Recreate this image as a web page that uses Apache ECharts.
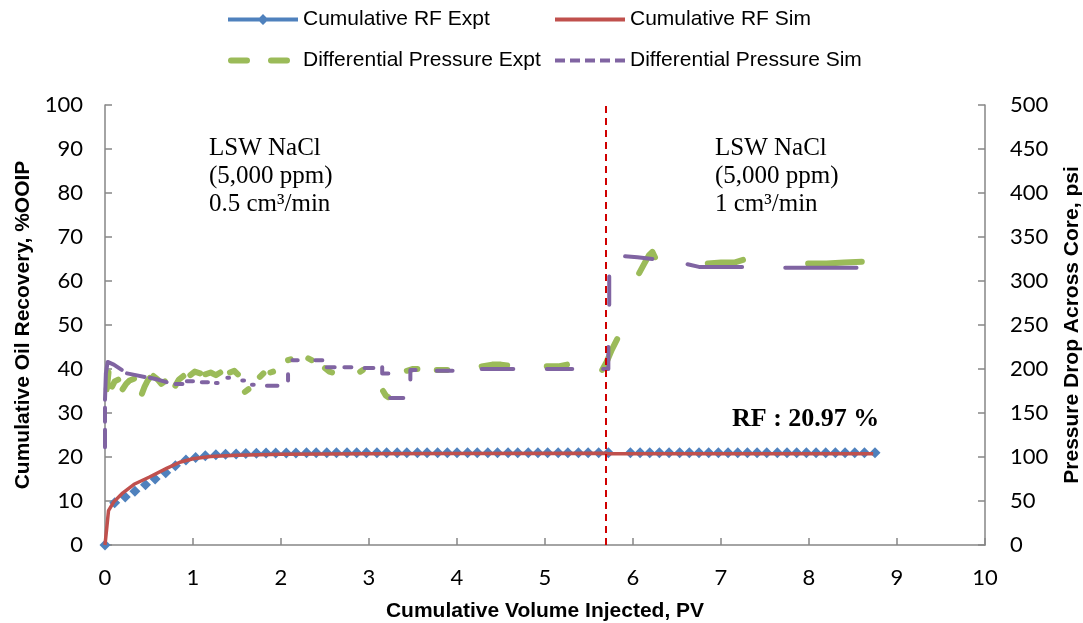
<!DOCTYPE html>
<html>
<head>
<meta charset="utf-8">
<script src="https://cdn.jsdelivr.net/npm/echarts@6/dist/echarts.min.js"></script>
<style>
html,body{margin:0;padding:0;background:#fff;}
#chart{width:1083px;height:623px;}
</style>
</head>
<body>
<div id="chart"></div>
<script>
// ---------- DATA ----------
const xTicks = {min: 0, max: 10, interval: 1};
const leftTicks = {min: 0, max: 100, interval: 10};
const rightTicks = {min: 0, max: 500, interval: 50};

const seriesNames = ['Cumulative RF Expt', 'Cumulative RF Sim', 'Differential Pressure Expt', 'Differential Pressure Sim'];

// Cumulative RF (Expt) : PV and %OOIP
const rfExptPV = [0, 0.11, 0.23, 0.34, 0.46, 0.57, 0.69, 0.80, 0.92, 1.03, 1.14, 1.26, 1.37, 1.49, 1.60, 1.72, 1.83, 1.94, 2.06, 2.17,
  2.29, 2.40, 2.52, 2.63, 2.75, 2.86, 2.97, 3.09, 3.20, 3.32, 3.43, 3.55, 3.66, 3.78, 3.89, 4.00, 4.12, 4.23, 4.35, 4.46,
  4.58, 4.69, 4.81, 4.92, 5.03, 5.15, 5.26, 5.38, 5.49, 5.61, 5.72,
  5.97, 6.08, 6.19, 6.30, 6.41, 6.53, 6.64, 6.75, 6.86, 6.97, 7.08, 7.19, 7.30, 7.41, 7.52, 7.64, 7.75, 7.86, 7.97, 8.08,
  8.19, 8.30, 8.41, 8.52, 8.63, 8.75];
const rfExptVal = [0, 9.6, 10.9, 12.2, 13.7, 15.0, 16.4, 18.0, 19.3, 19.9, 20.3, 20.5, 20.6, 20.7, 20.8, 20.85, 20.9, 20.9, 20.92, 20.93,
  20.94, 20.95, 20.95, 20.96, 20.96, 20.97, 20.97, 20.97, 20.97, 20.97, 20.97, 20.97, 20.97, 20.97, 20.97, 20.97, 20.97, 20.97, 20.97, 20.97,
  20.97, 20.97, 20.97, 20.97, 20.97, 20.97, 20.97, 20.97, 20.97, 20.97, 20.97,
  20.97, 20.97, 20.97, 20.97, 20.97, 20.97, 20.97, 20.97, 20.97, 20.97, 20.97, 20.97, 20.97, 20.97, 20.97, 20.97, 20.97, 20.97, 20.97, 20.97,
  20.97, 20.97, 20.97, 20.97, 20.97, 20.97];

// Cumulative RF (Sim)
const rfSimPV  = [0, 0.04, 0.10, 0.20, 0.33, 0.50, 0.70, 0.85, 1.00, 1.20, 1.50, 2.00, 3.00, 4.00, 5.69, 5.72, 8.73];
const rfSimVal = [0, 7.8, 9.8, 11.8, 13.8, 15.4, 17.4, 18.8, 19.6, 20.1, 20.4, 20.6, 20.75, 20.8, 20.85, 20.75, 20.75];

// Differential pressure (Expt), psi — visible pieces [PV, psi]
const dpExptSegments = [
  [[0.02,177],[0.03,186],[0.04,196]],
  [[0.08,180],[0.11,186],[0.15,188]],
  [[0.20,177],[0.24,183],[0.28,187],[0.33,189]],
  [[0.42,172],[0.45,180],[0.48,186],[0.51,190]],
  [[0.55,192],[0.60,188],[0.64,183],[0.68,186]],
  [[0.80,181],[0.84,188],[0.89,192]],
  [[0.97,193],[1.02,197],[1.08,195]],
  [[1.14,194],[1.20,196],[1.26,193],[1.31,196]],
  [[1.42,196],[1.47,198],[1.51,194]],
  [[1.59,174],[1.63,177]],
  [[1.76,191],[1.80,195]],
  [[1.88,196],[1.91,197]],
  [[2.08,210],[2.11,211]],
  [[2.31,212],[2.35,210]],
  [[2.50,201],[2.55,197],[2.58,196]],
  [[2.90,197],[2.93,199]],
  [[3.16,175],[3.19,170],[3.22,168]],
  [[3.43,198],[3.50,200],[3.55,200]],
  [[3.77,199],[3.89,199]],
  [[4.28,203],[4.40,205],[4.50,205],[4.57,204]],
  [[5.02,203],[5.15,203],[5.25,205]],
  [[5.65,199],[5.70,208],[5.76,222],[5.82,234]],
  [[6.07,309],[6.13,320],[6.18,329],[6.22,333],[6.25,327]],
  [[6.85,320],[7.00,321],[7.15,321],[7.25,324]],
  [[7.99,320],[8.20,320],[8.40,321],[8.60,322]]
];

// Differential pressure (Sim), psi — visible pieces [PV, psi]
const dpSimSegments = [
  [[0.0,111],[0.0,131]],
  [[0.0,140],[0.0,156]],
  [[0.0,165],[0.01,195],[0.03,208],[0.10,205],[0.19,199]],
  [[0.25,195],[0.35,193],[0.45,191]],
  [[0.51,190],[0.60,188],[0.70,185]],
  [[0.80,183],[0.88,183]],
  [[0.93,186],[1.00,186]],
  [[1.10,185],[1.17,185]],
  [[1.26,184],[1.28,184]],
  [[1.39,190],[1.41,190]],
  [[1.56,187],[1.58,187]],
  [[1.67,182],[1.69,182]],
  [[1.84,181],[1.96,181]],
  [[2.08,187],[2.08,194]],
  [[2.13,210],[2.19,210]],
  [[2.39,210],[2.47,210]],
  [[2.52,202],[2.61,202]],
  [[2.72,202],[2.80,202]],
  [[2.95,201],[3.05,201]],
  [[3.15,202],[3.15,195],[3.22,195]],
  [[3.24,167],[3.39,167]],
  [[3.47,188],[3.47,199],[3.53,199]],
  [[3.77,198],[3.95,198]],
  [[4.28,200],[4.64,200]],
  [[5.02,200],[5.31,200]],
  [[5.66,200],[5.72,200],[5.72,225]],
  [[5.73,273],[5.73,305]],
  [[5.91,328],[6.05,327],[6.22,325]],
  [[6.62,319],[6.75,316],[7.24,316]],
  [[7.73,315],[8.54,315]]
];

const switchPV = 5.69; // rate change marker
const annotLeft = 'LSW NaCl\n(5,000 ppm)\n0.5 cm\u00B3/min';
const annotRight = 'LSW NaCl\n(5,000 ppm)\n1 cm\u00B3/min';
const rfLabel = 'RF : 20.97 %';

// ---------- BUILD ----------
function pairs(xs, ys){ return xs.map((x,i)=>[x, ys[i]]); }
function joinSegments(segs){
  const out = [];
  segs.forEach((s,i)=>{ if(i>0) out.push(null); s.forEach(p=>out.push(p)); });
  return out;
}

const C = {blue:'#4F81BD', red:'#C0504D', green:'#9BBB59', purple:'#8064A2', axis:'#868686'};

const axisCommon = {
  axisLine:{show:true, lineStyle:{color:C.axis, width:1.5}},
  axisTick:{show:true, inside:true, length:7, lineStyle:{color:C.axis, width:1.5}},
  splitLine:{show:false},
  axisLabel:{color:'#000', fontFamily:'Lato', fontSize:22},
  nameLocation:'middle',
  nameTextStyle:{color:'#000', fontFamily:'Liberation Sans', fontWeight:'bold', fontSize:21}
};

const legendText = {color:'#000', fontFamily:'Liberation Sans', fontSize:21};
const iconBlue = 'path://M0,3.5L70,3.5L70,7.5L0,7.5Z M35,0L40.5,5.5L35,11L29.5,5.5Z';
const iconRed = 'path://M0,0L70,0L70,4L0,4Z';
const iconGreen = 'path://M3,0L19,0A3,3 0 0 1 19,6L3,6A3,3 0 0 1 3,0Z M43,0L59,0A3,3 0 0 1 59,6L43,6A3,3 0 0 1 43,0Z M70,3L70,3.01L69.99,3Z';
const iconPurple = 'path://M0,0L10,0L10,4L0,4Z M15,0L25,0L25,4L15,4Z M30,0L40,0L40,4L30,4Z M45,0L55,0L55,4L45,4Z M60,0L70,0L70,4L60,4Z';

const chart = echarts.init(document.getElementById('chart'), null, {renderer:'canvas'});
chart.setOption({
  animation:false,
  backgroundColor:'#fff',
  grid:{left:105, right:98, top:105, bottom:78, containLabel:false, outerBoundsMode:'none'},
  legend:[
    {data:[{name:seriesNames[0], icon:iconBlue}], left:228, top:9, itemWidth:70, itemHeight:11, padding:0, textStyle:legendText, selectedMode:false},
    {data:[{name:seriesNames[1], icon:iconRed}], left:555, top:9, itemWidth:70, itemHeight:4, padding:0, textStyle:legendText, selectedMode:false},
    {data:[{name:seriesNames[2], icon:iconGreen}], left:228, top:50, itemWidth:70, itemHeight:6, padding:0, textStyle:legendText, selectedMode:false},
    {data:[{name:seriesNames[3], icon:iconPurple}], left:555, top:50, itemWidth:70, itemHeight:4, padding:0, textStyle:legendText, selectedMode:false}
  ],
  xAxis:Object.assign({}, axisCommon, {
    type:'value', min:xTicks.min, max:xTicks.max, interval:xTicks.interval,
    name:'Cumulative Volume Injected, PV', nameGap:56,
    axisLabel:Object.assign({}, axisCommon.axisLabel, {margin:22})
  }),
  yAxis:[
    Object.assign({}, axisCommon, {
      type:'value', position:'left', min:leftTicks.min, max:leftTicks.max, interval:leftTicks.interval,
      name:'Cumulative Oil Recovery, %OOIP', nameGap:71,
      axisLabel:Object.assign({}, axisCommon.axisLabel, {margin:22})
    }),
    Object.assign({}, axisCommon, {
      type:'value', position:'right', min:rightTicks.min, max:rightTicks.max, interval:rightTicks.interval,
      name:'Pressure Drop Across Core, psi', nameGap:77,
      axisLabel:Object.assign({}, axisCommon.axisLabel, {margin:25})
    })
  ],
  series:[
    {
      name:seriesNames[0], type:'line', yAxisIndex:0, data:pairs(rfExptPV, rfExptVal),
      symbol:'diamond', symbolSize:[11,11], showSymbol:true,
      itemStyle:{color:C.blue}, lineStyle:{width:0, opacity:0, color:C.blue},
      emphasis:{disabled:true}, z:2
    },
    {
      name:seriesNames[1], type:'line', yAxisIndex:0, data:pairs(rfSimPV, rfSimVal),
      symbol:'none', itemStyle:{color:C.red}, lineStyle:{width:3.5, color:C.red},
      emphasis:{disabled:true}, z:3,
      markLine:{
        silent:true, symbol:['none','none'], label:{show:false},
        lineStyle:{color:'#D00000', type:[7,5], width:2},
        data:[{xAxis:switchPV}], z:10
      }
    },
    {
      name:seriesNames[2], type:'line', yAxisIndex:1, data:joinSegments(dpExptSegments),
      symbol:'none', connectNulls:false, itemStyle:{color:C.green},
      lineStyle:{width:6, color:C.green, cap:'round', join:'round'},
      emphasis:{disabled:true}, z:4
    },
    {
      name:seriesNames[3], type:'line', yAxisIndex:1, data:joinSegments(dpSimSegments),
      symbol:'none', connectNulls:false, itemStyle:{color:C.purple},
      lineStyle:{width:4, color:C.purple, cap:'round', join:'round'},
      emphasis:{disabled:true}, z:5
    }
  ],
  graphic:[
    {type:'text', left:209, top:134, style:{text:annotLeft, fontFamily:'Liberation Serif', fontSize:25, lineHeight:28, fill:'#000'}},
    {type:'text', left:715, top:134, style:{text:annotRight, fontFamily:'Liberation Serif', fontSize:25, lineHeight:28, fill:'#000'}},
    {type:'text', left:732, top:405, style:{text:rfLabel, fontFamily:'Liberation Serif', fontWeight:'bold', fontSize:26, lineHeight:28, fill:'#000'}}
  ]
});
</script>
</body>
</html>
